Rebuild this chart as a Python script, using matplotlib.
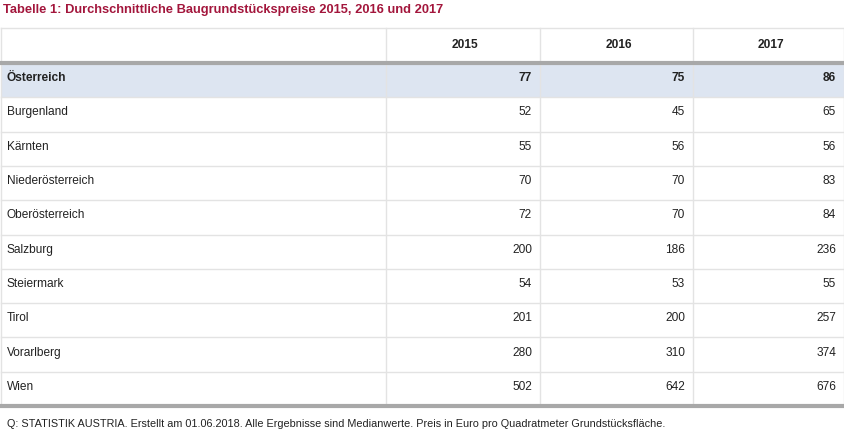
import matplotlib
matplotlib.use("Agg")
import matplotlib.pyplot as plt
from matplotlib.patches import Rectangle

title = "Tabelle 1: Durchschnittliche Baugrundstückspreise 2015, 2016 und 2017"
years = ["2015", "2016", "2017"]
regions = ["Österreich", "Burgenland", "Kärnten", "Niederösterreich", "Oberösterreich",
           "Salzburg", "Steiermark", "Tirol", "Vorarlberg", "Wien"]
v2015 = [77, 52, 55, 70, 72, 200, 54, 201, 280, 502]
v2016 = [75, 45, 56, 70, 70, 186, 53, 200, 310, 642]
v2017 = [86, 65, 56, 83, 84, 236, 55, 257, 374, 676]
footnote = ("Q: STATISTIK AUSTRIA. Erstellt am 01.06.2018. Alle Ergebnisse sind Medianwerte. "
            "Preis in Euro pro Quadratmeter Grundstücksfläche.")

plt.rcParams["font.family"] = "Liberation Sans"
fig = plt.figure(figsize=(8.45, 4.33), dpi=100)
ax = fig.add_axes([0, 0, 1, 1])
ax.set_xlim(0, 845); ax.set_ylim(433, 0); ax.axis("off")

ax.text(3, 10, title, color="#a3163c", fontsize=9.3, fontweight="bold", va="center")
line = "#e3e3e3"
top, head_bot = 28, 63
rowh = (406 - 63) / 10
cols = [1, 386, 540, 693, 844]
ax.add_patch(Rectangle((1, head_bot), 843, rowh, color="#dde5f1", lw=0))
for i in range(1, 10):
    y = head_bot + i * rowh
    ax.plot([1, 844], [y, y], color=line, lw=1)
ax.plot([1, 844], [top, top], color=line, lw=1)
for x in cols:
    ax.plot([x, x], [top, 406], color=line, lw=1)
ax.plot([1, 844], [head_bot, head_bot], color="#a8a8a8", lw=3)
ax.plot([1, 844], [406, 406], color="#a8a8a8", lw=3)

fs = 8.6
for j, yr in enumerate(years):
    ax.text((cols[j + 1] + cols[j + 2]) / 2 + 2, 45, yr, ha="center", va="center",
            fontsize=fs, fontweight="bold", color="#222222")
series = [v2015, v2016, v2017]
for i, r in enumerate(regions):
    y = head_bot + i * rowh + rowh / 2 - 2
    fw = "bold" if i == 0 else "normal"
    ax.text(7, y, r, fontsize=fs, fontweight=fw, va="center", color="#222222")
    for j in range(3):
        ax.text(cols[j + 2] - 8, y, str(series[j][i]), fontsize=fs, fontweight=fw,
                va="center", ha="right", color="#222222")
ax.text(7, 424, footnote, fontsize=7.8, va="center", color="#222222")
fig.savefig("out.png", dpi=100)
